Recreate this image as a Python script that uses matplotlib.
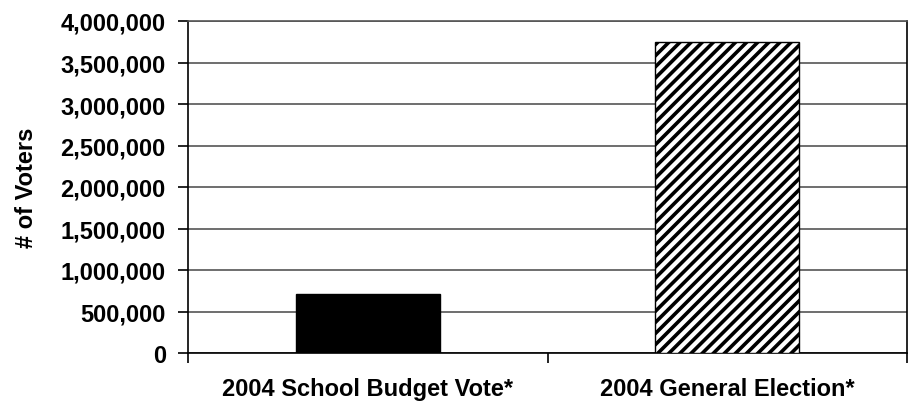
import matplotlib
matplotlib.use("Agg")
import matplotlib.pyplot as plt
from matplotlib.ticker import FuncFormatter, FixedLocator

categories = ["2004 School Budget Vote*", "2004 General Election*"]
voters = [710000, 3750000]
yticks = list(range(0, 4000001, 500000))

plt.rcParams['font.family'] = ['Liberation Sans', 'DejaVu Sans']
plt.rcParams['font.weight'] = 'bold'
plt.rcParams['hatch.linewidth'] = 2.6

fig = plt.figure(figsize=(9.09, 4.06), dpi=100)
ax = fig.add_axes([188 / 909, 52 / 406, 719 / 909, 332 / 406])

x = range(len(categories))
bars = ax.bar(x, voters, width=0.4, color=["black", "white"],
              edgecolor="black", linewidth=1, zorder=3)
bars[1].set_hatch("///")

ax.set_xlim(-0.5, 1.5)
ax.set_ylim(0, 4000000)
ax.set_yticks(yticks)
ax.yaxis.set_major_formatter(FuncFormatter(lambda v, p: f"{int(v):,}"))
ax.yaxis.grid(True, color="#555555", linewidth=1.2, zorder=0)

# category labels sit between boundary ticks
ax.xaxis.set_major_locator(FixedLocator([-0.5, 0.5, 1.5]))
ax.xaxis.set_major_formatter(FuncFormatter(lambda v, p: ""))
ax.xaxis.set_minor_locator(FixedLocator(list(x)))
ax.set_xticklabels(categories, minor=True)
ax.tick_params(axis="x", which="major", length=7, width=1.2, direction="out")
ax.tick_params(axis="x", which="minor", length=0, pad=17, labelsize=17)
ax.tick_params(axis="y", length=7, width=1.2, direction="out", pad=9,
               labelsize=17)

for s in ax.spines.values():
    s.set_linewidth(1.2)
ax.spines["top"].set_color("#555555")

ax.set_ylabel("# of Voters", fontsize=17, fontweight="bold", labelpad=16)

fig.savefig("out.png", dpi=100)
